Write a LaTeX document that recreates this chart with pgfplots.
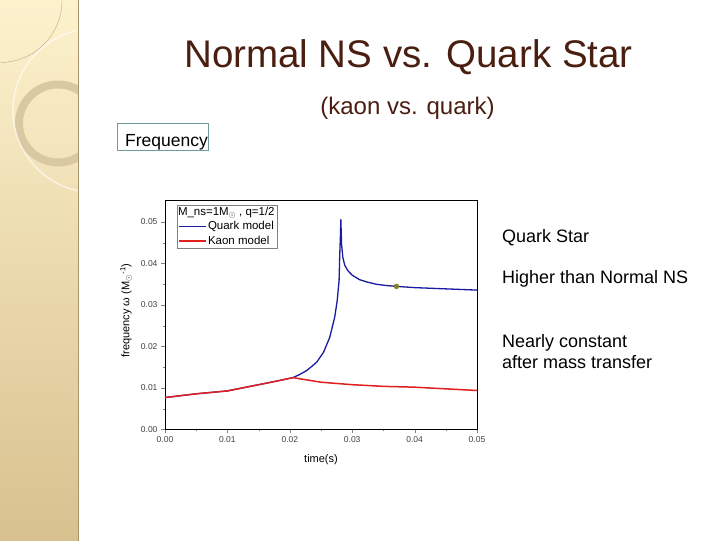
\documentclass[border=0pt]{standalone}
\usepackage{fontspec}
\setmainfont{Liberation Sans}
\usepackage{pgfplots}
\pgfplotsset{compat=1.18}
\definecolor{titlebrown}{HTML}{4A1E10}
\definecolor{stripetop}{HTML}{FDF2CD}
\definecolor{stripebot}{HTML}{D8C18F}
\definecolor{stripeedge}{HTML}{A8936A}
\definecolor{ringcol}{HTML}{D9C9A0}
\definecolor{boxteal}{HTML}{6E9A9A}
\definecolor{quarkblue}{HTML}{1A1AA0}
\definecolor{kaonred}{HTML}{E02020}
\definecolor{dotolive}{HTML}{7F8030}

\begin{document}
\begin{tikzpicture}[x=1pt,y=1pt]
% slide background
\fill[white] (0,0) rectangle (720,540);
\shade[top color=stripetop,bottom color=stripebot] (0,0) rectangle (78,540);
\begin{scope}
  \clip (0,0) rectangle (78,540);
  \draw[ringcol,line width=8pt] (58,417) circle (39);
  \draw[white,opacity=.6,line width=1.5pt] (95,430) circle (82);
  \draw[stripeedge!80,line width=0.4pt] (0,540) circle (62);
\end{scope}
\draw[stripeedge,line width=1pt] (78,0) -- (78,540);

% titles and notes
\node[anchor=base,text=titlebrown,font=\fontsize{38.5}{40}\selectfont] at (408.5,473) {Normal NS vs. Quark Star};
\node[anchor=base,text=titlebrown,font=\fontsize{24}{26}\selectfont] at (407.5,426) {(kaon vs. quark)};
\draw[boxteal,line width=1pt] (117,390) rectangle (208,417);
\node[anchor=base west,inner sep=0pt,font=\fontsize{17.5}{19}\selectfont] at (125,394) {Frequency};
\begin{scope}[every node/.style={anchor=base west,inner sep=0pt,font=\fontsize{18}{20}\selectfont}]
  \node at (502,298) {Quark Star};
  \node at (502,257) {Higher than Normal NS};
  \node at (502,193) {Nearly constant};
  \node at (502,172) {after mass transfer};
\end{scope}

\begin{axis}[
  at={(165pt,111pt)}, anchor=origin,
  scale only axis, width=312pt, height=229pt,
  xmin=0, xmax=0.05, ymin=0, ymax=0.0552,
  xtick={0,0.01,0.02,0.03,0.04,0.05},
  ytick={0,0.01,0.02,0.03,0.04,0.05},
  minor x tick num=1, minor y tick num=1,
  tick align=outside, tick pos=left,
  major tick length=4pt, minor tick length=2pt,
  scaled x ticks=false, scaled y ticks=false,
  /pgf/number format/assume math mode=true,
  /pgf/number format/.cd, fixed, fixed zerofill, precision=2, /pgfplots/.cd,
  tick label style={font=\fontsize{8.5}{9}\selectfont, text=black!75},
  axis line style={line width=0.8pt},
  xlabel={time(s)},
  ylabel={frequency ω (M$_{\odot}$\textsuperscript{-1})},
  label style={font=\fontsize{11}{12}\selectfont},
  xlabel style={at={(axis description cs:0.5,-0.131)},anchor=center},
  ylabel style={at={(axis description cs:-0.125,0.52)},anchor=center},
  legend style={at={(axis description cs:0.0385,0.9825)}, anchor=north west,
    draw=gray, font=\fontsize{11.5}{12}\selectfont,
    inner sep=1.5pt, row sep=3pt, nodes={inner sep=0.8pt}},
  legend cell align=left,
  legend image code/.code={\draw[#1] (0pt,0pt) -- (27pt,0pt);},
]
\addlegendimage{empty legend}
\addlegendentry{\hspace*{-30pt}M\_ns=1M$_{\odot}$ , q=1/2}
\addlegendimage{quarkblue, line width=1.4pt}
\addlegendentry{Quark model}
\addlegendimage{kaonred, line width=1.5pt}
\addlegendentry{Kaon model}
\addplot[forget plot, quarkblue, line width=1.3pt, line join=round] coordinates {
 (0,0.0077) (0.005,0.0086) (0.01,0.0093) (0.015,0.0108) (0.018,0.0117)
 (0.0205,0.0125) (0.0215,0.0132) (0.0227,0.0142) (0.0243,0.0162)
 (0.0254,0.0186) (0.0264,0.0222) (0.0272,0.0271) (0.0276,0.0311)
 (0.0279,0.0359) (0.0280,0.0420) (0.02812,0.0470) (0.02818,0.0506)
 (0.0283,0.0445) (0.0285,0.0415) (0.0288,0.0396) (0.0293,0.0383)
 (0.0300,0.0372) (0.0312,0.0361) (0.0325,0.0355) (0.0339,0.0350)
 (0.0355,0.0347) (0.0371,0.0345) (0.040,0.0342) (0.045,0.0339) (0.050,0.0336)
};
\addplot[forget plot, kaonred, line width=1.5pt] coordinates {
 (0,0.0077) (0.005,0.0086) (0.01,0.0093) (0.015,0.0108) (0.018,0.0117)
 (0.0205,0.0125) (0.025,0.0114) (0.03,0.0108) (0.035,0.0104)
 (0.04,0.0102) (0.045,0.0098) (0.05,0.0094)
};
\addplot[forget plot, only marks, mark=*, mark size=2.5pt, color=dotolive] coordinates {(0.0371,0.0345)};
\end{axis}
\end{tikzpicture}
\end{document}
